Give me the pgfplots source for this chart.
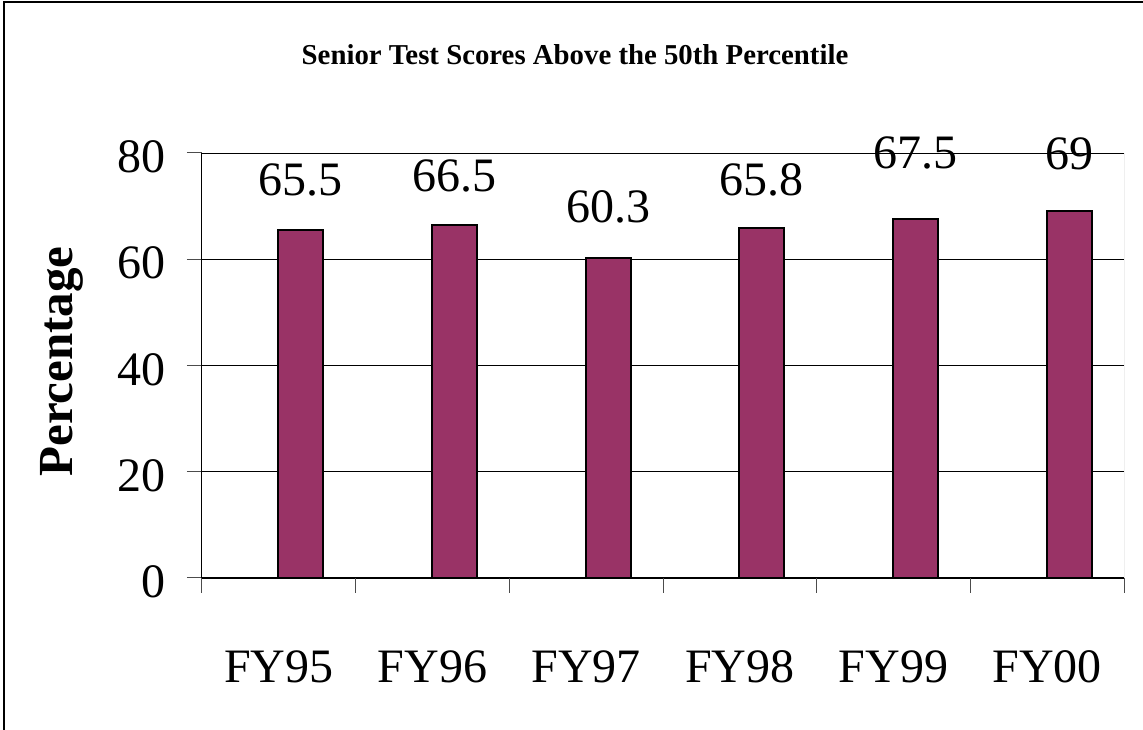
\documentclass[border=0pt]{standalone}
\usepackage{fontspec}
\setmainfont{Liberation Serif}
\usepackage{pgfplots}
\usepackage{pgfplotstable}
\pgfplotsset{compat=1.18}
\definecolor{barplum}{HTML}{993366}
\pgfplotstableread{
x y off
0 65.5 35
1 66.5 33
2 60.3 35
3 65.8 33
4 67.5 51
5 69 42
}\scores
\begin{document}
\begin{tikzpicture}[x=1pt,y=1pt]
\useasboundingbox (-202,-152) rectangle (941,578);
\draw[line width=1.5pt] (-198,-152) -- (-198,576) -- (941,576);
\begin{axis}[
 anchor=south west,
 scale only axis, width=922pt, height=425pt,
 xmin=-0.5, xmax=5.5, ymin=0, ymax=80,
 axis x line*=bottom, axis y line*=left,
 axis line style={black, line width=1pt, -},
 xtick={-0.5,0.5,...,5.5},
 x tick label as interval,
 xticklabels={FY95,FY96,FY97,FY98,FY99,FY00},
 ytick={0,20,...,80},
 ymajorgrids, grid style={black, line width=0.8pt},
 tick align=outside, major tick length=15pt,
 tick style={black!70, line width=1pt},
 /pgf/number format/assume math mode=true,
 ticklabel style={font=\fontsize{48}{50}\selectfont},
 yticklabel style={anchor=east, inner sep=0pt, xshift=-21pt, yshift=-4pt},
 xticklabel style={anchor=base, inner sep=0pt, yshift=-89pt},
 ybar, bar width=45pt, bar shift=22pt,
]
\addplot[fill=barplum, draw=black, line width=2pt,
  visualization depends on={\thisrow{off} \as \labeloff},
  nodes near coords,
  every node near coord/.append style={font=\fontsize{48}{50}\selectfont, anchor=base, inner sep=0pt, yshift=\labeloff pt, black},
] table[x=x, y=y] {\scores};
\draw[black!50, line width=1pt] (rel axis cs:1,0) -- (rel axis cs:1,1);
\end{axis}
\node[font=\bfseries\fontsize{28.8}{30}\selectfont, anchor=base] at (373,513) {Senior Test Scores Above the 50th Percentile};
\node[font=\bfseries\fontsize{49}{51}\selectfont, rotate=90, anchor=base] at (-129,216.5) {Percentage};
\end{tikzpicture}
\end{document}
